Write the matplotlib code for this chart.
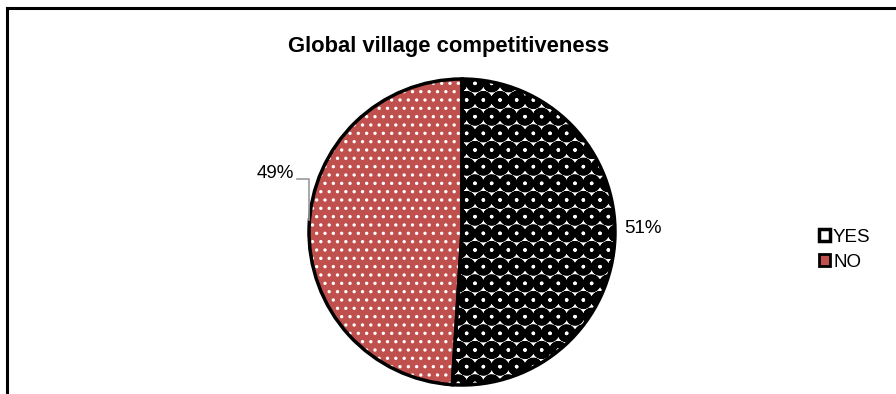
import matplotlib
matplotlib.use("Agg")
import matplotlib.pyplot as plt
from matplotlib.patches import Patch
from matplotlib.lines import Line2D

plt.rcParams['font.family'] = ['Liberation Sans', 'DejaVu Sans']

title = 'Global village competitiveness'
labels = ['YES', 'NO']
values = [51, 49]
pct_labels = ['51%', '49%']
colors = ['white', '#C0504D']
hatch_colors = ['black', 'white']
hatches = ['O', '..']
hatch_lw = [4.6, 1.2]

fig = plt.figure(figsize=(8.96, 3.94), dpi=100)
ax = fig.add_axes([309/896, 9/394, 306/896, 306/394])

wedges, _ = ax.pie(values, startangle=90, counterclock=False, colors=colors,
                   wedgeprops=dict(linewidth=0))
for w, h, hc, hl in zip(wedges, hatches, hatch_colors, hatch_lw):
    w.set_hatch(h)
    w.set_edgecolor(hc)
    if hasattr(w, 'set_hatch_linewidth'):
        w.set_hatch_linewidth(hl)
    else:
        w._hatch_linewidth = hl

# black outlines on top
ax.pie(values, startangle=90, counterclock=False,
       wedgeprops=dict(facecolor='none', edgecolor='black', linewidth=2.5))
ax.set_xlim(-1.0, 1.0)
ax.set_ylim(-1.0, 1.0)
ax.set_aspect('equal')

ax.text(1.18, 0.02, pct_labels[0], fontsize=13.5, ha='center', va='center')
ax.text(-1.22, 0.385, pct_labels[1], fontsize=13.5, ha='center', va='center')
ax.plot([-1.078, -1.0, -1.0], [0.346, 0.346, 0.078], color='#999999', lw=1.2,
        clip_on=False)

fig.text(0.501, 0.881, title, fontsize=15.8, fontweight='bold', ha='center', va='center')

handles = [Patch(facecolor='white', edgecolor='black', linewidth=2.5),
           Patch(facecolor='#C0504D', edgecolor='black', linewidth=2)]
fig.legend(handles, labels, loc='center left', bbox_to_anchor=(0.914, 0.366),
           frameon=False, fontsize=13.5, handlelength=0.6, handleheight=0.6,
           handletextpad=0.15, labelspacing=0.45, borderpad=0, borderaxespad=0)

# chart border (top and left only visible)
fig.add_artist(Line2D([7/896, 1.0], [1 - 8/394, 1 - 8/394], color='black', lw=2.2))
fig.add_artist(Line2D([7/896, 7/896], [0, 1 - 8/394], color='black', lw=2.2))

fig.savefig('out.png', dpi=100)
